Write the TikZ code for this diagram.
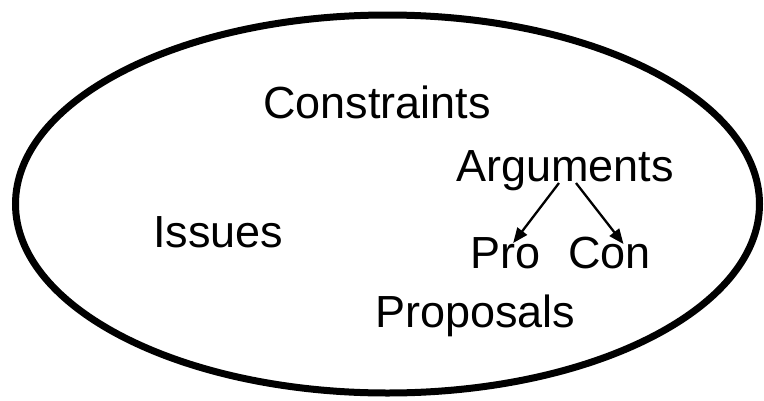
\documentclass[tikz,border=0pt]{standalone}
\usepackage{fontspec}
\setmainfont{Liberation Sans}
\usetikzlibrary{arrows.meta,calc}
\begin{document}
\begin{tikzpicture}[x=1pt,y=-1pt,
  label/.style={inner sep=0pt,anchor=base west,font=\fontsize{45}{54}\selectfont},
  link/.style={line width=2.3pt,-{Triangle[length=15pt,width=12pt]}}]
  \useasboundingbox (0,0) rectangle (764,400);
  % outer boundary
  \draw[line width=7pt] (387.5,204) ellipse [x radius=372, y radius=189];
  % terms
  \node[label] (constraints) at (263,118) {Constraints};
  \node[label] (arguments) at (456,181) {Arguments};
  \node[label] (issues) at (153,247) {Issues};
  \node[label] (pro) at (470,268) {Pro};
  \node[label] (con) at (568,268) {Con};
  \node[label] (proposals) at (375,327) {Proposals};
  % arguments split into pro and con
  \draw[link] ($(arguments.base)+(-6,2)$) -- ($(pro.base)+(8,-25)$);
  \draw[link] ($(arguments.base)+(11,2)$) -- ($(con.base)+(14,-24)$);
\end{tikzpicture}
\end{document}
